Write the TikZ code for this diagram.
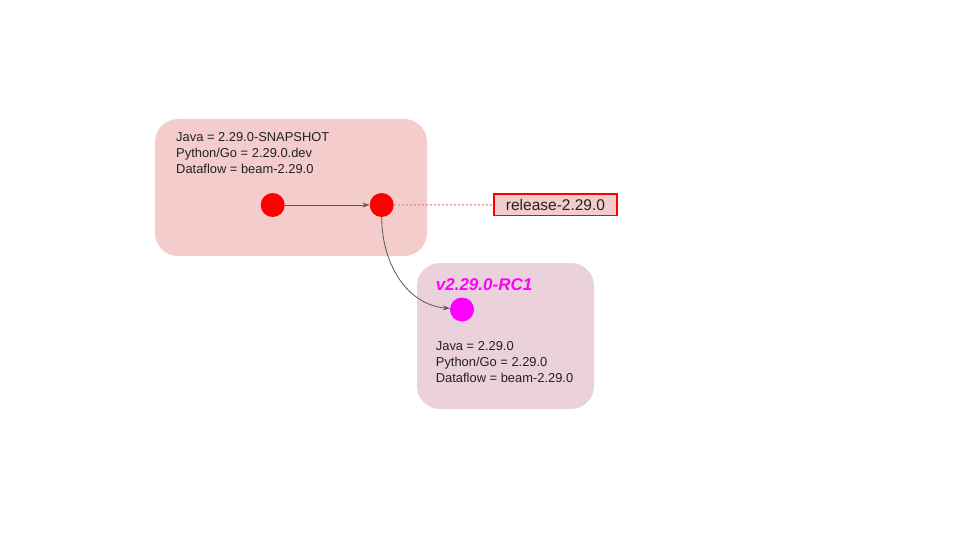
\documentclass[tikz,border=0pt]{standalone}
\usepackage{fontspec}
\setmainfont{Liberation Sans}
\usetikzlibrary{arrows.meta}

\definecolor{branchpink}{HTML}{F4CCCC}
\definecolor{rcpink}{HTML}{EAD1DC}
\definecolor{textgray}{HTML}{222222}
\definecolor{linegray}{HTML}{595959}
\definecolor{dotred}{HTML}{E06666}
\definecolor{commitred}{HTML}{FF0000}
\definecolor{rcmagenta}{HTML}{FF00FF}

\tikzstyle{panel}=[rounded corners=23pt]
\tikzstyle{commit}=[circle, inner sep=0pt, minimum size=24pt]
\tikzstyle{info}=[anchor=base west, inner sep=0pt, text=textgray,
                  font=\fontsize{12.9}{16}\selectfont]
\tikzstyle{flow}=[linegray, line width=0.8pt,
                  -{Stealth[length=7pt, width=5pt]}]

\begin{document}
\begin{tikzpicture}[x=1pt, y=-1pt]
  \useasboundingbox (0, 0) rectangle (960, 540);

  \fill[branchpink, panel] (155, 119) rectangle (427, 256);
  \fill[rcpink, panel] (417, 263) rectangle (594, 409);

  \node[info] (javaA) at (176, 141.5) {Java = 2.29.0-SNAPSHOT};
  \node[info] (pyA) at (176, 157.5) {Python/Go = 2.29.0.dev};
  \node[info] (dfA) at (176, 173.5) {Dataflow = beam-2.29.0};

  \node[commit, fill=commitred] (c1) at (272.7, 205) {};
  \node[commit, fill=commitred] (c2) at (381.7, 205) {};

  \node[draw=commitred, line width=1.4pt, fill=branchpink, inner sep=0pt,
        minimum width=123pt, minimum height=21.5pt, text=textgray,
        font=\fontsize{15.5}{18}\selectfont] (release) at (555.5, 204.7) {release-2.29.0};

  \node[anchor=base west, inner sep=0pt, text=rcmagenta,
        font=\fontsize{17}{20}\selectfont\bfseries\itshape] (rc) at (435.7, 290.7) {v2.29.0-RC1};
  \node[commit, fill=rcmagenta] (c3) at (462, 309.5) {};

  \node[info] (javaB) at (435.7, 350.7) {Java = 2.29.0};
  \node[info] (pyB) at (435.7, 366.7) {Python/Go = 2.29.0};
  \node[info] (dfB) at (435.7, 382.7) {Dataflow = beam-2.29.0};

  \draw[flow] (c1) -- (c2);
  \draw[dotred, line width=0.9pt, dash pattern=on 2pt off 2pt] (c2) -- (release);
  \draw[flow] (c2) to[out=-90, in=175] (c3);

\end{tikzpicture}
\end{document}
